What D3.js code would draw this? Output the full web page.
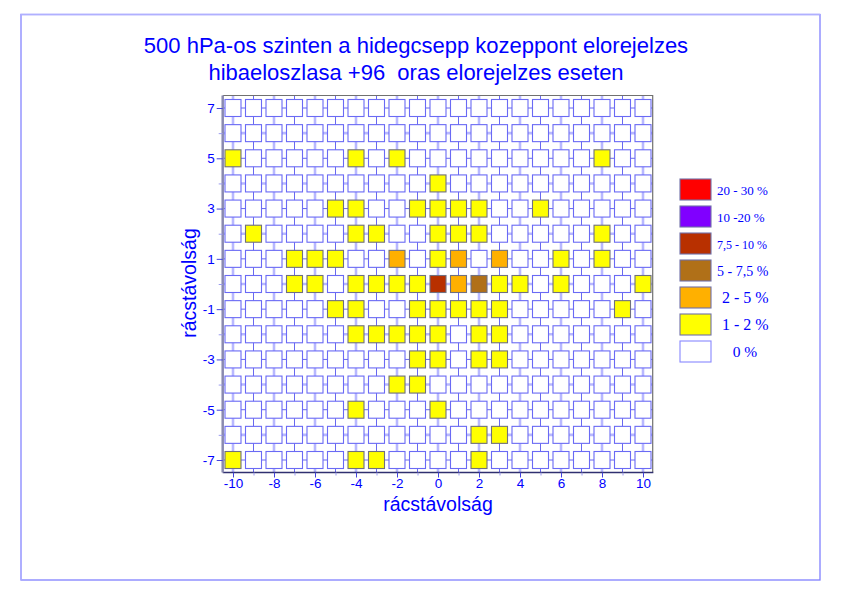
<!DOCTYPE html>
<html>
<head>
<meta charset="utf-8">
<script src="https://cdn.jsdelivr.net/npm/d3@7"></script>
<style>
  html, body { margin: 0; padding: 0; background: #fff; }
  svg { display: block; }
  text { white-space: pre; }
</style>
</head>
<body>
<svg id="chart" width="841" height="595"></svg>
<script>
// ---------- DATA ----------
const titleLines = ["500 hPa-os szinten a hidegcsepp kozeppont elorejelzes",
                    "hibaeloszlasa +96  oras elorejelzes eseten"];
const axisTitle = "rácstávolság";
const xValues = d3.range(-10, 11);          // grid distance, columns
const yValues = d3.range(7, -8, -1);        // grid distance, rows (top to bottom)
const xTickLabels = [-10, -8, -6, -4, -2, 0, 2, 4, 6, 8, 10];
const yTickLabels = [7, 5, 3, 1, -1, -3, -5, -7];
// percentage of cases per cell (rows y = 7 ... -7, columns x = -10 ... 10), estimated from class colours
const percentGrid = [
  [0,  0,  0,  0,  0,  0,  0,  0,  0,  0,  0,  0,  0,  0,  0,  0,  0,  0,  0,  0,  0],   // 7
  [0,  0,  0,  0,  0,  0,  0,  0,  0,  0,  0,  0,  0,  0,  0,  0,  0,  0,  0,  0,  0],   // 6
  [1.5,0,  0,  0,  0,  0,  1.5,0,  1.5,0,  0,  0,  0,  0,  0,  0,  0,  0,  1.5,0,  0],   // 5
  [0,  0,  0,  0,  0,  0,  0,  0,  0,  0,  1.5,0,  0,  0,  0,  0,  0,  0,  0,  0,  0],   // 4
  [0,  0,  0,  0,  0,  1.5,1.5,0,  0,  1.5,1.5,1.5,1.5,0,  0,  1.5,0,  0,  0,  0,  0],   // 3
  [0,  1.5,0,  0,  0,  0,  1.5,1.5,0,  0,  1.5,1.5,1.5,0,  0,  0,  0,  0,  1.5,0,  0],   // 2
  [0,  0,  0,  1.5,1.5,1.5,0,  0,  3,  0,  1.5,3,  0,  3,  0,  0,  1.5,0,  1.5,0,  0],   // 1
  [0,  0,  0,  1.5,1.5,0,  1.5,1.5,1.5,1.5,8,  3,  6,  1.5,1.5,0,  1.5,0,  0,  0,  1.5], // 0
  [0,  0,  0,  0,  0,  1.5,1.5,0,  0,  1.5,1.5,1.5,1.5,1.5,0,  0,  0,  0,  0,  1.5,0],   // -1
  [0,  0,  0,  0,  0,  0,  1.5,1.5,1.5,1.5,1.5,0,  1.5,1.5,0,  0,  0,  0,  0,  0,  0],   // -2
  [0,  0,  0,  0,  0,  0,  0,  0,  0,  1.5,1.5,0,  1.5,1.5,0,  0,  0,  0,  0,  0,  0],   // -3
  [0,  0,  0,  0,  0,  0,  0,  0,  1.5,1.5,0,  0,  0,  0,  0,  0,  0,  0,  0,  0,  0],   // -4
  [0,  0,  0,  0,  0,  0,  1.5,0,  0,  0,  1.5,0,  0,  0,  0,  0,  0,  0,  0,  0,  0],   // -5
  [0,  0,  0,  0,  0,  0,  0,  0,  0,  0,  0,  0,  1.5,1.5,0,  0,  0,  0,  0,  0,  0],   // -6
  [1.5,0,  0,  0,  0,  0,  1.5,1.5,0,  0,  0,  0,  1.5,0,  0,  0,  0,  0,  0,  0,  0]    // -7
];
const classBreaks = [1, 2, 5, 7.5, 10, 20];
const classColors = ["#ffffff", "#ffff00", "#ffb000", "#b07018", "#b83000", "#8000ff", "#ff0000"];
const legendLabels = ["20 - 30 %", "10 -20 %", "7,5 - 10 %", "5 - 7,5 %", "2 - 5 %", "1 - 2 %", "0 %"];

// ---------- DRAW ----------
const svg = d3.select("#chart");
const blue = "#0000ff";
const sans = "'Liberation Sans', Arial, sans-serif";

// outer frame
svg.append("rect").attr("x", 21).attr("y", 14.5).attr("width", 799).attr("height", 565.5)
  .attr("fill", "none").attr("stroke", "#8080ff").attr("stroke-width", 1.3);
svg.append("path").attr("d", "M21,580 V14.5 H820").attr("fill", "none")
  .attr("stroke", "#b0b0ff").attr("stroke-width", 1.5);

// title
svg.append("g").selectAll("text").data(titleLines).join("text")
  .attr("x", 416).attr("y", (d, i) => 53 + i * 27)
  .attr("text-anchor", "middle")
  .attr("font-family", sans)
  .attr("font-size", 22).attr("fill", blue).text(d => d);

const x = d3.scaleLinear().domain([-10, 10]).range([233, 643]);
const y = d3.scaleLinear().domain([7, -7]).range([108, 460]);
const frame = { left: 222.7, right: 652.7, top: 95.5, bottom: 472.5 };
const color = d3.scaleThreshold().domain(classBreaks).range(classColors);
const cellW = 16, cellH = 17;

const plot = svg.append("g");

// grid lines through cell centres (light for even values, dark for odd values)
plot.append("g").selectAll("line").data(xValues).join("line")
  .attr("x1", d => x(d)).attr("x2", d => x(d))
  .attr("y1", frame.top).attr("y2", frame.bottom)
  .attr("stroke", d => d % 2 === 0 ? "#b8b8ff" : "#6868f0")
  .attr("stroke-width", d => d % 2 === 0 ? 2.6 : 1);
plot.append("g").selectAll("line").data(yValues).join("line")
  .attr("y1", d => y(d)).attr("y2", d => y(d))
  .attr("x1", frame.left).attr("x2", frame.right)
  .attr("stroke", d => d % 2 === 0 ? "#b8b8ff" : "#6868f0")
  .attr("stroke-width", d => d % 2 === 0 ? 2.6 : 1);

// cells
const cells = [];
percentGrid.forEach((row, ri) => row.forEach((v, ci) => cells.push({ x: xValues[ci], y: yValues[ri], v })));
plot.append("g").selectAll("rect").data(cells).join("rect")
  .attr("x", d => x(d.x) - cellW / 2).attr("y", d => y(d.y) - cellH / 2)
  .attr("width", cellW).attr("height", cellH)
  .attr("fill", d => color(d.v))
  .attr("stroke", d => d.v > 0 ? "#707080" : "#6a6af5")
  .attr("stroke-width", 1.1);

// plot frame
plot.append("path").attr("d", `M${frame.left},${frame.top} H${frame.right} V${frame.bottom}`)
  .attr("fill", "none").attr("stroke", "#707070").attr("stroke-width", 1.2);
plot.append("line").attr("x1", frame.left).attr("x2", frame.right + 0.6)
  .attr("y1", frame.bottom).attr("y2", frame.bottom)
  .attr("stroke", "#303070").attr("stroke-width", 1.5);
plot.append("line").attr("x1", frame.left).attr("x2", frame.left)
  .attr("y1", frame.top).attr("y2", frame.bottom)
  .attr("stroke", "#8a8ab0").attr("stroke-width", 2.5);

// axes (hyphen-minus labels as in the original)
const fmt = d => String(d);
const xAxisG = svg.append("g").attr("transform", `translate(0,${frame.bottom})`)
  .call(d3.axisBottom(x).tickValues(xTickLabels).tickSize(5).tickPadding(1).tickFormat(fmt));
const xMinor = svg.append("g").attr("transform", `translate(0,${frame.bottom})`)
  .call(d3.axisBottom(x).tickValues(xValues.filter(d => d % 2 !== 0)).tickSize(3).tickFormat(""));
const yAxisG = svg.append("g").attr("transform", `translate(${frame.left},0)`)
  .call(d3.axisLeft(y).tickValues(yTickLabels).tickSize(6).tickPadding(2).tickFormat(fmt));
const yMinor = svg.append("g").attr("transform", `translate(${frame.left},0)`)
  .call(d3.axisLeft(y).tickValues(yValues.filter(d => d % 2 === 0)).tickSize(4).tickFormat(""));
[xAxisG, xMinor, yAxisG, yMinor].forEach(g => {
  g.select(".domain").remove();
  g.selectAll(".tick line").attr("stroke", "#4444dd");
  g.selectAll(".tick text").attr("fill", blue).attr("font-family", sans).attr("font-size", 13.5);
});
xMinor.selectAll(".tick line").attr("stroke", "#9a9aee");
yMinor.selectAll(".tick line").attr("stroke", "#9a9aee");

// axis titles
svg.append("text").attr("x", 438).attr("y", 511).attr("text-anchor", "middle")
  .attr("font-family", sans).attr("font-size", 19.5).attr("fill", blue).text(axisTitle);
svg.append("text").attr("transform", "translate(196,283) rotate(-90)").attr("text-anchor", "middle")
  .attr("font-family", sans).attr("font-size", 19.5).attr("fill", blue).text(axisTitle);

// legend
const legendColors = classColors.slice().reverse();
const legendSizes = [13, 13, 12, 14, 16, 16, 15.5];
const legend = svg.append("g").selectAll("g").data(legendLabels).join("g")
  .attr("transform", (d, i) => `translate(680,${179 + i * 27})`);
legend.append("rect").attr("width", 31).attr("height", 21)
  .attr("fill", (d, i) => legendColors[i])
  .attr("stroke", (d, i) => i === legendLabels.length - 1 ? "#8888ff" : "#7070a8")
  .attr("stroke-width", 1.1);
legend.append("text")
  .attr("x", (d, i) => i === legendLabels.length - 1 ? 65 : (i >= 4 ? 42 : 37))
  .attr("y", 15.5)
  .attr("text-anchor", (d, i) => i === legendLabels.length - 1 ? "middle" : "start")
  .attr("font-family", "'Liberation Serif', 'Times New Roman', serif")
  .attr("font-size", (d, i) => legendSizes[i])
  .attr("fill", blue).text(d => d);
</script>
</body>
</html>
